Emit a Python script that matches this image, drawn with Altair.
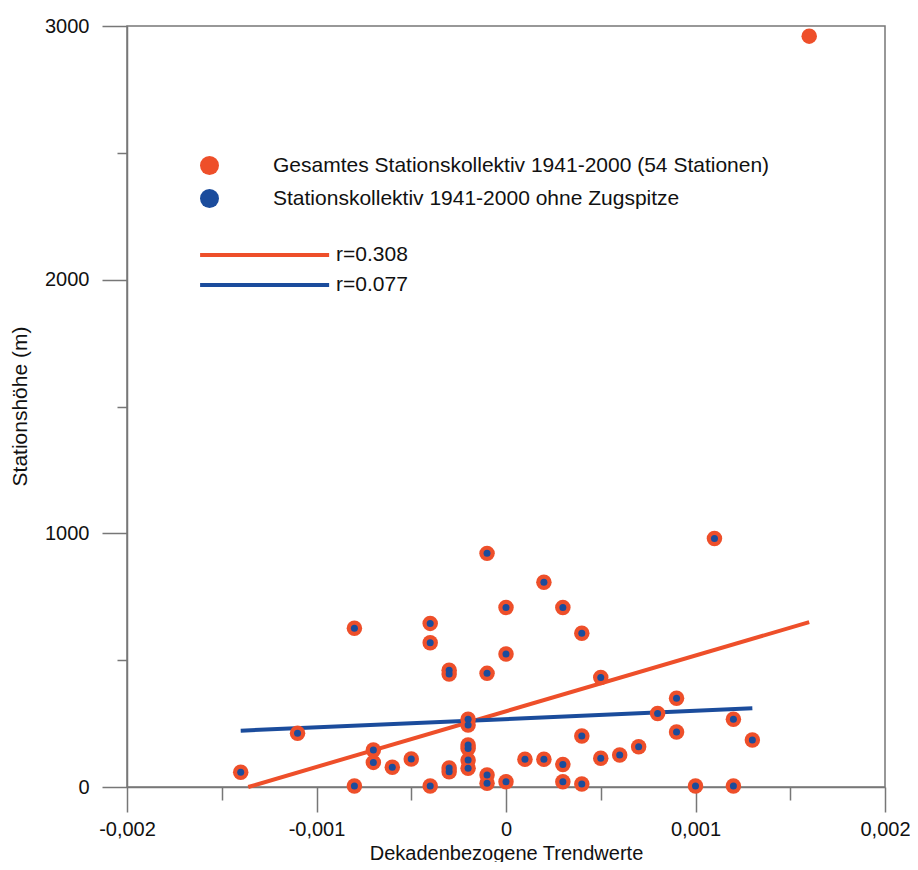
import altair as alt
import pandas as pd

# ---- data ----
# decade trend values (per decade) and station heights (m), without Zugspitze
trend = [-0.0014, -0.0011, -0.0008, -0.0008, -0.0007, -0.0007, -0.0006, -0.0005,
         -0.0004, -0.0004, -0.0004, -0.0003, -0.0003, -0.0003, -0.0003,
         -0.0002, -0.0002, -0.0002, -0.0002, -0.0002, -0.0002,
         -0.0001, -0.0001, -0.0001, -0.0001, 0.0, 0.0, 0.0,
         0.0001, 0.0002, 0.0002, 0.0003, 0.0003, 0.0003,
         0.0004, 0.0004, 0.0004, 0.0005, 0.0005, 0.0006, 0.0007, 0.0008,
         0.0009, 0.0009, 0.0010, 0.0011, 0.0012, 0.0012, 0.0013]
height = [58, 212, 626, 4, 146, 97, 78, 110,
          645, 569, 4, 460, 445, 75, 60,
          267, 244, 166, 152, 106, 74,
          921, 448, 47, 15, 708, 524, 21,
          109, 807, 109, 708, 89, 21,
          606, 201, 12, 432, 113, 126, 159, 290,
          350, 217, 4, 980, 267, 4, 185]
zug_trend = [0.0016]
zug_height = [2960]

series_names = ["Gesamtes Stationskollektiv 1941-2000 (54 Stationen)",
                "Stationskollektiv 1941-2000 ohne Zugspitze"]
fit_names = ["r=0.308", "r=0.077"]
fit_all_x = [-0.00136, 0.0016]
fit_all_h = [0, 650]
fit_sub_x = [-0.0014, 0.0013]
fit_sub_h = [222, 310]

x_ticks = [-0.002, -0.0015, -0.001, -0.0005, 0.0, 0.0005, 0.001, 0.0015, 0.002]
y_ticks = [0, 500, 1000, 1500, 2000, 2500, 3000]

RED = "#ee4f2a"
BLUE = "#1b4c9c"
FONT = "Liberation Sans"

pts_all = pd.DataFrame({"trend": trend + zug_trend, "height": height + zug_height,
                        "series": series_names[0]})
pts_sub = pd.DataFrame({"trend": trend, "height": height, "series": series_names[1]})
fits = pd.DataFrame({
    "trend": fit_all_x + fit_sub_x,
    "height": fit_all_h + fit_sub_h,
    "fit": [fit_names[0]] * 2 + [fit_names[1]] * 2,
})

x_major = "abs(datum.value*1000 - round(datum.value*1000)) < 1e-6"
x_label = ("(" + x_major + ") ? (datum.value == 0 ? '0' : ((datum.value < 0 ? '-' : '') + '0,00' + "
           "round(abs(datum.value)*1000))) : ''")
y_major = "datum.value % 1000 == 0"

W, H = 758, 761

x_enc = alt.X("trend:Q", scale=alt.Scale(domain=[-0.002, 0.002], nice=False, zero=False),
              axis=alt.Axis(title="Dekadenbezogene Trendwerte", values=x_ticks,
                            labelExpr=x_label, labelFlush=False,
                            tickSize={"condition": {"test": x_major, "value": 25}, "value": 13},
                            labelPadding=7, labelFontSize=20, labelFont=FONT,
                            labelColor="#111", titleFontSize=20, titleFont=FONT,
                            titleFontWeight="normal", titleColor="#111",
                            titleX=W / 2, titleY=66, titleBaseline="middle",
                            grid=False, domainColor="#777", tickColor="#777",
                            domainWidth=1.5, tickWidth=1.5))
y_enc = alt.Y("height:Q", scale=alt.Scale(domain=[0, 3000], nice=False),
              axis=alt.Axis(title="Stationshöhe (m)", values=y_ticks,
                            labelExpr="(" + y_major + ") ? '' + datum.value : ''",
                            tickSize={"condition": {"test": y_major, "value": 25}, "value": 10},
                            labelPadding=13, labelFontSize=20, labelFont=FONT,
                            labelColor="#111", titleFontSize=21, titleFont=FONT,
                            titleFontWeight="normal", titleColor="#111",
                            titleX=-107, titleY=380, titleAngle=-90,
                            titleAlign="center", titleBaseline="middle",
                            grid=False, domainColor="#777", tickColor="#777",
                            domainWidth=1.5, tickWidth=1.5))

fill_scale = alt.Scale(domain=series_names, range=[RED, BLUE])
fill_legend = alt.Legend(title=None, orient="none", legendX=72, legendY=129,
                         symbolType="circle", symbolSize=361, symbolStrokeWidth=0,
                         labelFontSize=21, labelFont=FONT, labelColor="#111",
                         labelLimit=800, labelOffset=53, rowPadding=11, padding=0)
stroke_scale = alt.Scale(domain=fit_names, range=[RED, BLUE])
stroke_legend = alt.Legend(title=None, orient="none", legendX=71, legendY=214,
                           symbolType="M-1,0L9,0", symbolSize=666, symbolStrokeWidth=4,
                           labelFontSize=21, labelFont=FONT, labelColor="#111",
                           labelLimit=300, labelOffset=108, rowPadding=5, padding=0)

lines = alt.Chart(fits).mark_line(strokeWidth=4).encode(
    x=x_enc, y=y_enc,
    stroke=alt.Stroke("fit:N", scale=stroke_scale, legend=stroke_legend),
    detail="fit:N",
)
red_pts = alt.Chart(pts_all).mark_circle(size=240, opacity=1).encode(
    x="trend:Q", y="height:Q",
    fill=alt.Fill("series:N", scale=fill_scale, legend=fill_legend),
    color=alt.value(RED),
)
blue_pts = alt.Chart(pts_sub).mark_circle(size=49, opacity=1).encode(
    x="trend:Q", y="height:Q",
    fill=alt.Fill("series:N", scale=fill_scale, legend=fill_legend),
)

chart = alt.layer(lines, red_pts, blue_pts).properties(
    width=W, height=H,
    autosize=alt.AutoSizeParams(type="none"),
    padding={"left": 119, "top": 18, "right": 25, "bottom": 75},
    background="white",
).configure_view(stroke="#777", strokeWidth=1.5)

chart.save("out.html", embed_options={"renderer": "svg", "actions": False})
